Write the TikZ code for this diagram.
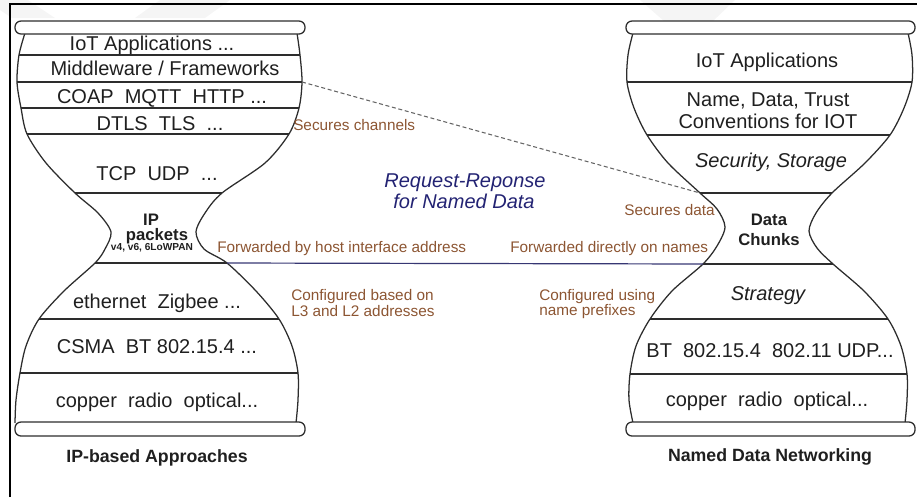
\documentclass[tikz,border=0pt]{standalone}
\usepackage{fontspec}
\setmainfont{Liberation Sans}
\definecolor{notebrown}{RGB}{140,85,50}
\definecolor{flowblue}{RGB}{35,35,115}
\definecolor{linkblue}{RGB}{55,55,115}
\definecolor{inkgray}{RGB}{45,45,45}
\tikzset{
  glassline/.style={draw=inkgray, line width=0.95pt},
  layersep/.style={draw=inkgray, line width=0.95pt},
  rim/.style={draw=inkgray, line width=0.95pt, fill=white, rounded corners=4.5pt},
  layer/.style={font=\fontsize{15}{18}\selectfont, text=black!88, anchor=base, inner sep=0pt},
  layerit/.style={layer, font=\fontsize{15}{18}\selectfont\itshape},
  core/.style={font=\fontsize{12.5}{14}\selectfont\bfseries, text=black!88, anchor=base, inner sep=0pt},
  tinytext/.style={font=\fontsize{7.6}{9}\selectfont\bfseries, text=black!88, anchor=base, inner sep=0pt},
  title/.style={font=\fontsize{13.3}{16}\selectfont\bfseries, text=black!88, anchor=base, inner sep=0pt},
  note/.style={font=\fontsize{11.5}{14}\selectfont, text=notebrown, anchor=base west, inner sep=0pt},
  flow/.style={font=\fontsize{15}{18}\selectfont\itshape, text=flowblue, anchor=base, inner sep=0pt},
  namelink/.style={draw=linkblue, line width=0.9pt},
  securelink/.style={draw=black!60, line width=0.8pt, dash pattern=on 3pt off 2pt},
}
\begin{document}
\begin{tikzpicture}[x=0.75pt, y=-0.75pt]
\useasboundingbox (0,0) rectangle (917,497);

% faint background marks
\fill[black!4] (0,0) -- (28,0) -- (55,18) -- (12,18) -- (0,10) -- cycle;
\fill[black!4] (160,0) -- (230,0) -- (205,18) -- (135,18) -- cycle;
\fill[black!4] (640,0) -- (735,0) -- (712,22) -- (665,22) -- cycle;

% frame
\draw[line width=1.5pt, black] (10.3,497) -- (10.3,4.3) -- (917,4.3);

% ---------- IP-based hourglass ----------
\begin{scope}
  \clip plot[smooth] coordinates {(25,33) (19,55) (17,82) (21,108) (27,134) (46,163) (75,193) (98,213) (111,232) (105,249) (95,263) (64,291) (39,319) (26,346) (20,373) (16,400) (15,423)}
     -- plot[smooth] coordinates {(296,423) (298,400) (298,373) (292,346) (279,319) (256,291) (227,263) (204,249) (196,232) (205,213) (222,193) (265,163) (289,134) (299,108) (302,82) (300,55) (297,33)} -- cycle;
  \foreach \yy in {55,82,108,134,193,263,319,373}
    \draw[layersep] (0,\yy) -- (320,\yy);
\end{scope}
\draw[glassline] plot[smooth] coordinates {(25,33) (19,55) (17,82) (21,108) (27,134) (46,163) (75,193) (98,213) (111,232) (105,249) (95,263) (64,291) (39,319) (26,346) (20,373) (16,400) (15,423)};
\draw[glassline] plot[smooth] coordinates {(297,33) (300,55) (302,82) (299,108) (289,134) (265,163) (222,193) (205,213) (196,232) (204,249) (227,263) (256,291) (279,319) (292,346) (298,373) (298,400) (296,423)};
\draw[rim] (15,21) rectangle (305,34);
\draw[rim] (15,422) rectangle (305,436);

\node[layer] (l1) at (152,50) {IoT Applications ...};
\node[layer] (l2) at (165,75) {Middleware / Frameworks};
\node[layer] (l3) at (162,103) {COAP\ \ MQTT\ \ HTTP ...};
\node[layer] (l4) at (160,130) {DTLS\ \ TLS\ \ ...};
\node[layer] (l5) at (157,180) {TCP\ \ UDP\ \ ...};
\node[core] (l6) at (151,225) {IP};
\node[core] (l6b) at (157,240) {packets};
\node[tinytext] (l6c) at (152,250.5) {v4, v6, 6LoWPAN};
\node[layer] (l7) at (157,308) {ethernet\ \ Zigbee ...};
\node[layer] (l8) at (157,353) {CSMA\ \ BT 802.15.4 ...};
\node[layer] (l9) at (157,407) {copper\ \ radio\ \ optical...};
\node[title] (ltitle) at (157,462) {IP-based Approaches};

% ---------- Named Data Networking hourglass ----------
\begin{scope}
  \clip plot[smooth] coordinates {(633,33) (628,55) (627,82) (634,108) (647,135) (668,163) (700,193) (717,209) (725,227) (717,246) (703,264) (672,291) (650,319) (636,346) (630,374) (629,400) (633,423)}
     -- plot[smooth] coordinates {(905,423) (907,400) (907,374) (901,346) (888,319) (864,291) (833,264) (817,248) (809,231) (816,213) (832,193) (865,163) (890,135) (904,108) (912,82) (912,55) (908,33)} -- cycle;
  \foreach \yy in {82,135,193,264,319,374}
    \draw[layersep] (600,\yy) -- (917,\yy);
\end{scope}
\draw[glassline] plot[smooth] coordinates {(633,33) (628,55) (627,82) (634,108) (647,135) (668,163) (700,193) (717,209) (725,227) (717,246) (703,264) (672,291) (650,319) (636,346) (630,374) (629,400) (633,423)};
\draw[glassline] plot[smooth] coordinates {(908,33) (912,55) (912,82) (904,108) (890,135) (865,163) (832,193) (816,213) (809,231) (817,248) (833,264) (864,291) (888,319) (901,346) (907,374) (907,400) (905,423)};
\draw[rim] (626,21) rectangle (915,34);
\draw[rim] (626,422) rectangle (915,436);

\node[layer] (r1) at (767,67) {IoT Applications};
\node[layer] (r2) at (768,106) {Name, Data, Trust};
\node[layer] (r2b) at (768,128) {Conventions for IOT};
\node[layerit] (r3) at (771,167) {Security, Storage};
\node[core] (r4) at (769,225) {Data};
\node[core] (r4b) at (769,245) {Chunks};
\node[layerit] (r5) at (768,300) {Strategy};
\node[layer] (r6) at (770,357) {BT\ \ 802.15.4\ \ 802.11 UDP...};
\node[layer] (r7) at (767,406) {copper\ \ radio\ \ optical...};
\node[title] (rtitle) at (770,461) {Named Data Networking};

% ---------- links between the two stacks ----------
\coordinate (Lneck) at (227,263);
\coordinate (Rneck) at (703,264);
\coordinate (Lmw) at (302,82);
\coordinate (Rsec) at (700,193);
\draw[namelink] (Lneck) -- (Rneck);
\draw[securelink] (Lmw) -- (Rsec);

\node[flow] (req1) at (465,187) {Request-Reponse};
\node[flow] (req2) at (464,208) {for Named Data};

\node[note] (n1) at (293,130) {Secures channels};
\node[note] (n2) at (624,215) {Secures data};
\node[note] (n3) at (217,252) {Forwarded by host interface address};
\node[note] (n4) at (510,252) {Forwarded directly on names};
\node[note] (n5) at (291,300) {Configured based on};
\node[note] (n5b) at (291,316) {L3 and L2 addresses};
\node[note] (n6) at (539,300) {Configured using};
\node[note] (n6b) at (539,315) {name prefixes};
\end{tikzpicture}
\end{document}
